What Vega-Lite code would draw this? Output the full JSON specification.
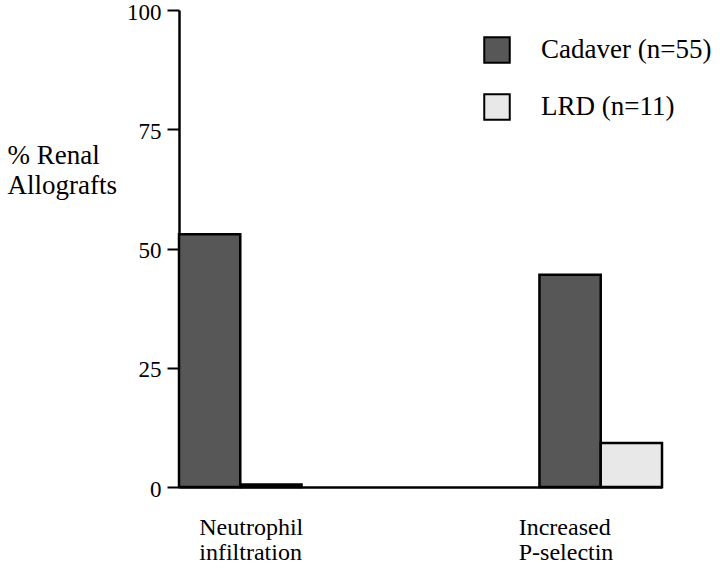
{
  "$schema": "https://vega.github.io/schema/vega-lite/v6.json",
  "width": 483,
  "height": 477,
  "autosize": {"type": "none"},
  "padding": {"left": 179, "top": 10, "right": 58, "bottom": 85},
  "background": "white",
  "config": {
    "view": {"stroke": null},
    "font": "Liberation Serif"
  },
  "data": {
    "values": [
      {"category": "Neutrophil infiltration", "donor": "Cadaver (n=55)", "percent": 53},
      {"category": "Neutrophil infiltration", "donor": "LRD (n=11)", "percent": 0.5},
      {"category": "Increased P-selectin", "donor": "Cadaver (n=55)", "percent": 44.5},
      {"category": "Increased P-selectin", "donor": "LRD (n=11)", "percent": 9.2}
    ]
  },
  "mark": {"type": "bar", "stroke": "black", "strokeWidth": 2.5},
  "encoding": {
    "x": {
      "field": "category",
      "type": "nominal",
      "sort": ["Neutrophil infiltration", "Increased P-selectin"],
      "scale": {"paddingInner": 0.66, "paddingOuter": 0},
      "axis": {
        "title": null,
        "ticks": false,
        "domainColor": "black",
        "domainWidth": 2.5,
        "labelAngle": 0,
        "labelAlign": "left",
        "labelBaseline": "top",
        "labelExpr": "split(datum.label, ' ')",
        "labelOffset": {"condition": {"test": "datum.value === 'Neutrophil infiltration'", "value": -41}, "value": -82},
        "labelPadding": 28,
        "labelFont": "Liberation Serif",
        "labelFontSize": 24,
        "labelLineHeight": 25,
        "labelColor": "black"
      }
    },
    "xOffset": {
      "field": "donor",
      "type": "nominal",
      "scale": {"paddingInner": 0, "paddingOuter": 0}
    },
    "y": {
      "field": "percent",
      "type": "quantitative",
      "scale": {"domain": [0, 100], "nice": false},
      "axis": {
        "values": [0, 25, 50, 75, 100],
        "grid": false,
        "domainColor": "black",
        "domainWidth": 2.5,
        "tickColor": "black",
        "tickWidth": 2,
        "tickSize": 12,
        "labelFont": "Liberation Serif",
        "labelFontSize": 23,
        "labelPadding": 6,
        "labelOffset": 2,
        "labelColor": "black",
        "title": ["% Renal", "Allografts"],
        "titleAngle": 0,
        "titleAlign": "left",
        "titleBaseline": "alphabetic",
        "titleX": -172,
        "titleY": 153,
        "titleFont": "Liberation Serif",
        "titleFontSize": 27,
        "titleFontWeight": "normal",
        "titleLineHeight": 30,
        "titleColor": "black"
      }
    },
    "fill": {
      "field": "donor",
      "type": "nominal",
      "scale": {"domain": ["Cadaver (n=55)", "LRD (n=11)"], "range": ["#575757", "#e8e8e8"]},
      "legend": {
        "title": null,
        "orient": "none",
        "legendX": 304,
        "legendY": 26,
        "symbolType": "square",
        "symbolSize": 650,
        "symbolStrokeColor": "black",
        "symbolStrokeWidth": 2,
        "symbolOpacity": 1,
        "labelFont": "Liberation Serif",
        "labelFontSize": 27,
        "labelColor": "black",
        "labelOffset": 30,
        "rowPadding": 23,
        "labelLimit": 300
      }
    }
  }
}
